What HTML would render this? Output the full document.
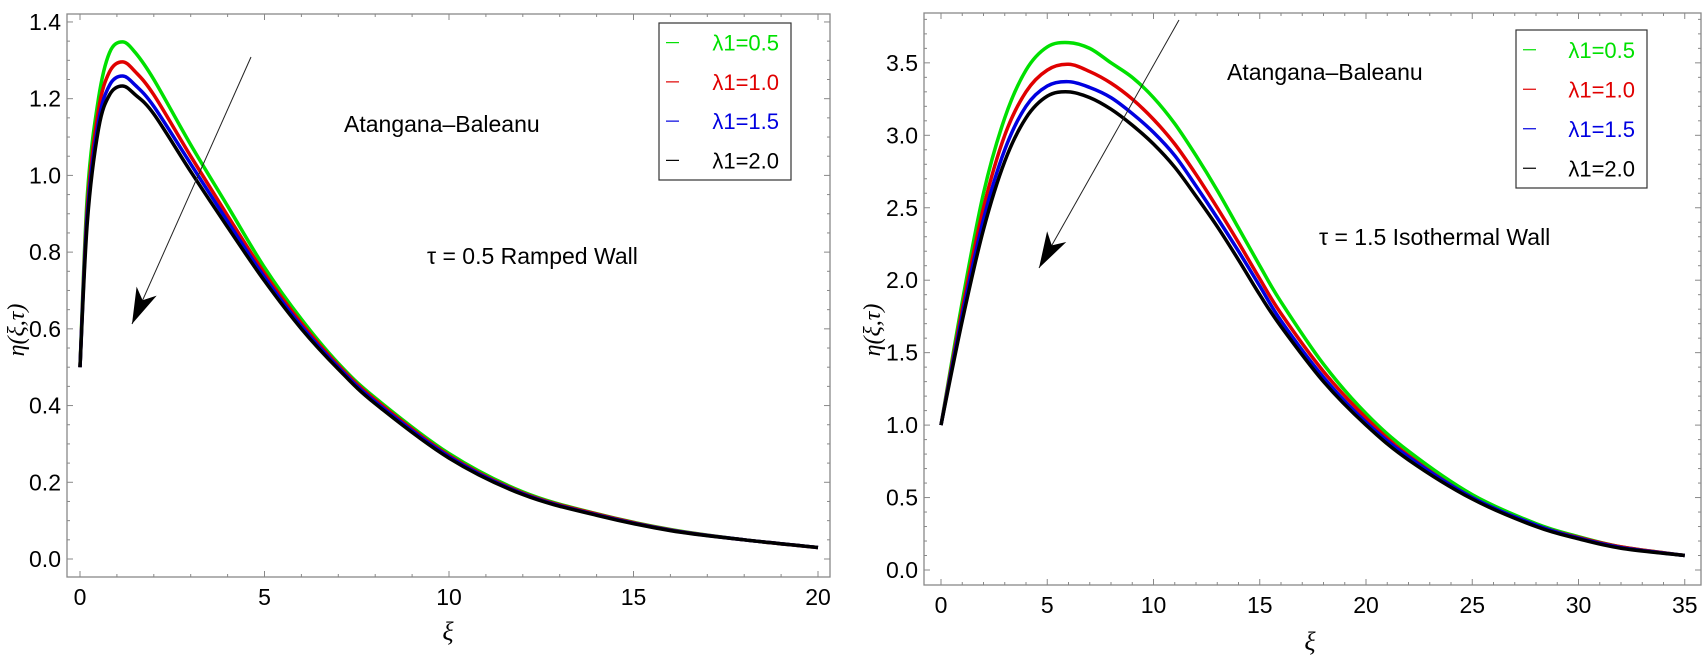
<!DOCTYPE html>
<html><head><meta charset="utf-8"><style>
html,body{margin:0;padding:0;background:#fff;}
svg{display:block;font-family:"Liberation Sans",sans-serif;}
</style></head><body>
<svg id="chart" width="1705" height="659" viewBox="0 0 1705 659"></svg>
<script>
// ---- Left panel data (Ramped wall, tau=0.5)
const leftX = [0,0.2,0.5,0.8,1.15,1.5,2,3,4,5,6,7,8,10,12,14,16,18,20];
const leftGreen = [0.5,0.95,1.2,1.32,1.348,1.32,1.25,1.08,0.92,0.76,0.625,0.51,0.42,0.275,0.175,0.118,0.077,0.05,0.03];
const leftRed   = [0.5,0.92,1.17,1.27,1.296,1.27,1.21,1.05,0.895,0.745,0.615,0.505,0.415,0.27,0.172,0.117,0.076,0.05,0.03];
const leftBlue  = [0.5,0.9,1.14,1.235,1.259,1.235,1.18,1.03,0.88,0.735,0.607,0.5,0.41,0.267,0.17,0.115,0.075,0.05,0.03];
const leftBlack = [0.5,0.88,1.12,1.21,1.233,1.21,1.16,1.01,0.865,0.725,0.6,0.495,0.405,0.263,0.168,0.114,0.074,0.05,0.03];
const leftXTicks = [0,5,10,15,20];
const leftYTicks = [0.0,0.2,0.4,0.6,0.8,1.0,1.2,1.4];
// ---- Right panel data (Isothermal wall, tau=1.5)
const rightX = [0,1,2,3,4,5,6,7,8,9,10,11,12,13,14,15,16,18,20,22,25,28,30,32,35];
const rightGreen = [1,1.85,2.6,3.12,3.45,3.61,3.64,3.6,3.5,3.4,3.26,3.08,2.86,2.62,2.36,2.1,1.85,1.42,1.08,0.82,0.52,0.32,0.23,0.16,0.1];
const rightRed   = [1,1.8,2.5,3.0,3.3,3.45,3.49,3.44,3.36,3.25,3.11,2.94,2.73,2.5,2.26,2.01,1.77,1.37,1.05,0.79,0.5,0.31,0.225,0.16,0.1];
const rightBlue  = [1,1.76,2.42,2.9,3.2,3.34,3.37,3.33,3.26,3.15,3.02,2.86,2.65,2.43,2.2,1.96,1.72,1.33,1.02,0.78,0.5,0.31,0.22,0.155,0.1];
const rightBlack = [1,1.72,2.35,2.82,3.12,3.27,3.3,3.26,3.18,3.07,2.94,2.78,2.58,2.37,2.14,1.9,1.68,1.3,1.0,0.76,0.49,0.3,0.215,0.15,0.1];
const rightXTicks = [0,5,10,15,20,25,30,35];
const rightYTicks = [0.0,0.5,1.0,1.5,2.0,2.5,3.0,3.5];
const legendLabels = ["λ1=0.5","λ1=1.0","λ1=1.5","λ1=2.0"];
const colors = ["#00e000","#e00000","#0000e0","#000000"];

const NS="http://www.w3.org/2000/svg";
const svg=document.getElementById('chart');
function mk(tag,attrs,parent){const e=document.createElementNS(NS,tag);for(const k in attrs)e.setAttribute(k,attrs[k]);(parent||svg).appendChild(e);return e;}

function panel(cfg){
  const g=mk('g',{});
  
  
  const sx=v=>cfg.x0+(v-0)*cfg.kx;
  const sy=v=>cfg.y0-v*cfg.ky;
  const F=cfg.frame;
  const fr=mk('rect',{x:F[0],y:F[1],width:F[2]-F[0],height:F[3]-F[1],fill:'none',stroke:'#888','stroke-width':1.3},g);
  
  
  for(let v=0;v<=cfg.xMax+1e-9;v+=cfg.xMinor){
    const major=cfg.xTicks.some(t=>Math.abs(t-v)<1e-6);
    const L=major?6:3;
    mk('line',{x1:sx(v),x2:sx(v),y1:F[3],y2:F[3]-L,stroke:'#888','stroke-width':1},g);
    mk('line',{x1:sx(v),x2:sx(v),y1:F[1],y2:F[1]+L,stroke:'#888','stroke-width':1},g);
  }
  cfg.xTicks.forEach(t=>{
    const tx=mk('text',{x:sx(t),y:F[3]+28,'text-anchor':'middle','font-size':23,fill:'#000'},g);
    tx.textContent=t;
    
    
  });
  for(let v=0;v<=cfg.yMax+1e-9;v+=cfg.yMinor){
    const major=cfg.yTicks.some(t=>Math.abs(t-v)<1e-6);
    const L=major?6:3;
    mk('line',{x1:F[0],x2:F[0]+L,y1:sy(v),y2:sy(v),stroke:'#888','stroke-width':1},g);
    mk('line',{x1:F[2],x2:F[2]-L,y1:sy(v),y2:sy(v),stroke:'#888','stroke-width':1},g);
  }
  cfg.yTicks.forEach(t=>{
    const ty=mk('text',{x:F[0]-6,y:sy(t)+8,'text-anchor':'end','font-size':23,fill:'#000'},g);
    ty.textContent=t.toFixed(1);
    
    
  });
  cfg.series.forEach((ys,i)=>{
    const pts=cfg.xs.map((x,j)=>[sx(x),sy(ys[j])]);
    let d='M'+pts[0][0]+','+pts[0][1];
    for(let j=0;j<pts.length-1;j++){
      const p0=pts[Math.max(0,j-1)],p1=pts[j],p2=pts[j+1],p3=pts[Math.min(pts.length-1,j+2)];
      const c1=[p1[0]+(p2[0]-p0[0])/6,p1[1]+(p2[1]-p0[1])/6];
      const c2=[p2[0]-(p3[0]-p1[0])/6,p2[1]-(p3[1]-p1[1])/6];
      d+=' C'+c1.join(',')+' '+c2.join(',')+' '+p2.join(',');
    }
    const path=mk('path',{d:d,fill:'none',stroke:colors[i],'stroke-width':3.5,'stroke-linejoin':'round'},g);
    
    
  });
  const A=cfg.arrow;
  const al=mk('line',{x1:A[0],y1:A[1],x2:A[2],y2:A[3],stroke:'#222','stroke-width':1},g);
  
  
  const dx=A[2]-A[0],dy=A[3]-A[1],len=Math.hypot(dx,dy),ux=dx/len,uy=dy/len;
  const bx=A[2]-ux*36,by=A[3]-uy*36;
  const ah=mk('polygon',{points:`${A[2]},${A[3]} ${bx-uy*11},${by+ux*11} ${A[2]-ux*26},${A[3]-uy*26} ${bx+uy*11},${by-ux*11}`,fill:'#000'},g);
  
  
  const Lg=cfg.legend;
  const lg=mk('g',{},g);
  
  
  mk('rect',{x:Lg[0],y:Lg[1],width:Lg[2]-Lg[0],height:Lg[3]-Lg[1],fill:'#fff',stroke:'#333','stroke-width':1.2},lg);
  const step=(Lg[3]-Lg[1])/4;
  legendLabels.forEach((lab,i)=>{
    const cy=Lg[1]+step*(i+0.5);
    const e=mk('g',{},lg);
    
    
    mk('line',{x1:Lg[0]+7,x2:Lg[0]+20,y1:cy,y2:cy,stroke:colors[i],'stroke-width':1.2},e);
    const t=mk('text',{x:Lg[2]-12,y:cy+8,'text-anchor':'end','font-size':22,fill:colors[i]},e);
    t.textContent=lab;
  });
  cfg.texts.forEach(tt=>{
    const t=mk('text',{x:tt[0],y:tt[1],'font-size':tt[3]||20,fill:'#000'},g);
    t.textContent=tt[2];
    
    
  });
  const xl=mk('text',{x:cfg.xlab[0],y:cfg.xlab[1],'text-anchor':'middle','font-size':26,'font-style':'italic',fill:'#000','font-family':'"Liberation Serif",serif'},g);
  xl.textContent='ξ';
  
  
  const yl=mk('text',{x:0,y:0,'text-anchor':'middle','font-size':24,'font-style':'italic',fill:'#000','font-family':'"Liberation Serif",serif',transform:`translate(${cfg.ylab[0]},${cfg.ylab[1]}) rotate(-90)`},g);
  yl.textContent='η(ξ,τ)';
  
  
}

panel({name:'left-panel',x0:80,kx:36.9,y0:559,ky:383.6,frame:[67,14,830,577],
  xMax:20.4,xMinor:1,yMax:1.4,yMinor:0.05,xTicks:leftXTicks,yTicks:leftYTicks,
  xs:leftX,series:[leftGreen,leftRed,leftBlue,leftBlack],
  arrow:[251,57,132,324],legend:[659,23,791,180],
  texts:[[344,132,'Atangana–Baleanu',23,'model-label'],[427,264,'τ = 0.5   Ramped Wall',23,'case-label']],
  xlab:[448,640],ylab:[24,330]});
panel({name:'right-panel',x0:941,kx:21.25,y0:570,ky:144.9,frame:[924,13,1701,585],
  xMax:35.5,xMinor:1,yMax:3.8,yMinor:0.1,xTicks:rightXTicks,yTicks:rightYTicks,
  xs:rightX,series:[rightGreen,rightRed,rightBlue,rightBlack],
  arrow:[1179,20,1039,268],legend:[1516,30,1647,188],
  texts:[[1227,80,'Atangana–Baleanu',23,'model-label'],[1319,245,'τ = 1.5    Isothermal Wall',23,'case-label']],
  xlab:[1310,650],ylab:[880,330]});
</script>
</body></html>
